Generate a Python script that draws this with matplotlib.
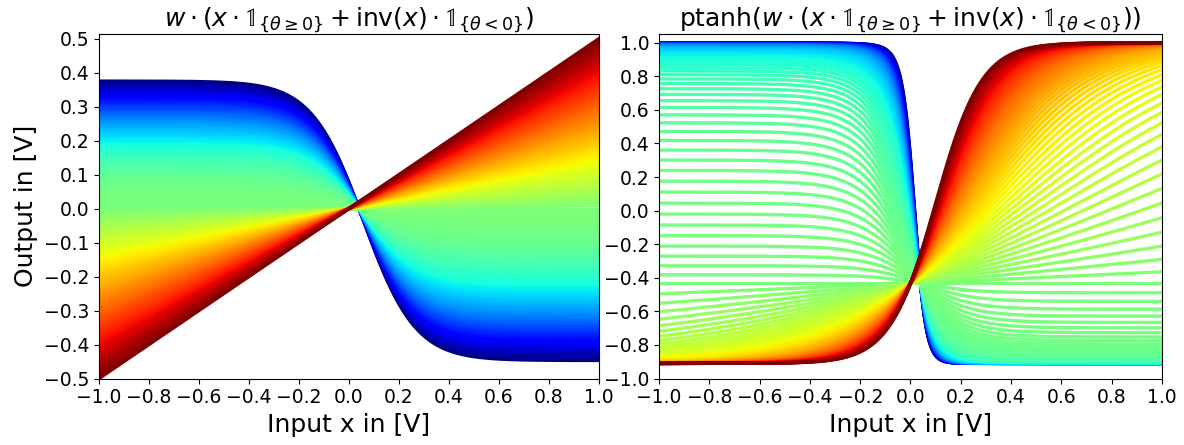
import numpy as np
import matplotlib
matplotlib.use("Agg")
from matplotlib import pyplot as plt

# weights: ~60 lines per family plus the w = 0 line
w_neg = np.linspace(1.0, 0.0, 61)[:-1]     # inverted branch (theta < 0), drawn from dark blue to green
w_zero = [0.0]
w_pos = np.linspace(0.0, 0.5, 61)[1:]      # direct branch (theta >= 0), drawn from green to dark red

# inverter curve inv(x): high / low levels, switching point and steepness
inv_high = 0.375
inv_low = -0.447
inv_center = 0.058
inv_gain = 4.84

# ptanh: upper / lower rail, centre and gain
pt_high = 1.0
pt_low = -0.91
pt_center = 0.05
pt_gain = 11.0

x = np.linspace(-1, 1, 801)


def inv(v):
    mid = (inv_high + inv_low) / 2
    amp = (inv_high - inv_low) / 2
    return mid - amp * np.tanh(inv_gain * (v - inv_center))


def ptanh(z):
    mid = (pt_high + pt_low) / 2
    amp = (pt_high - pt_low) / 2
    return mid + amp * np.tanh(pt_gain * (z - pt_center))


cmap = plt.get_cmap('jet')
curves = []
for w in w_neg:
    curves.append((w * inv(x), cmap(0.5 - 0.5 * w ** 2)))
for w in w_zero:
    curves.append((w * x, cmap(0.5)))
for w in w_pos:
    curves.append((w * x, cmap(0.5 + w)))

fig = plt.figure(figsize=(11.84, 4.45), dpi=100)
ax1 = fig.add_axes([0.0836, 0.1494, 0.4223, 0.7753])
ax2 = fig.add_axes([0.5566, 0.1494, 0.4248, 0.7753])

for y, col in curves:
    ax1.plot(x, y, color=col, lw=2.4)
    ax2.plot(x, ptanh(y), color=col, lw=2.4)

ind_pos = r'\mathbb{1}_{\{\theta \geq 0\}}'
ind_neg = r'\mathbb{1}_{\{\theta < 0\}}'
inner = r'w \cdot (x \cdot ' + ind_pos + r' + \mathrm{inv}(x) \cdot ' + ind_neg + ')'
ax1.set_title('$' + inner + '$', fontsize=18)
ax2.set_title(r'$\mathrm{ptanh}(' + inner + ')$', fontsize=18)

ax1.set_xlim(-1, 1)
ax1.set_ylim(-0.5, 0.515)
ax1.set_yticks(np.arange(-0.5, 0.51, 0.1))
ax2.set_xlim(-1, 1)
ax2.set_ylim(-1.0, 1.055)
ax2.set_yticks(np.arange(-1.0, 1.01, 0.2))
for ax in (ax1, ax2):
    ax.set_xticks(np.arange(-1.0, 1.01, 0.2))
    ax.tick_params(labelsize=13.5)
    ax.set_xlabel('Input x in [V]', fontsize=18)
ax1.set_ylabel('Output in [V]', fontsize=18)

fig.savefig('out.png', dpi=100)
